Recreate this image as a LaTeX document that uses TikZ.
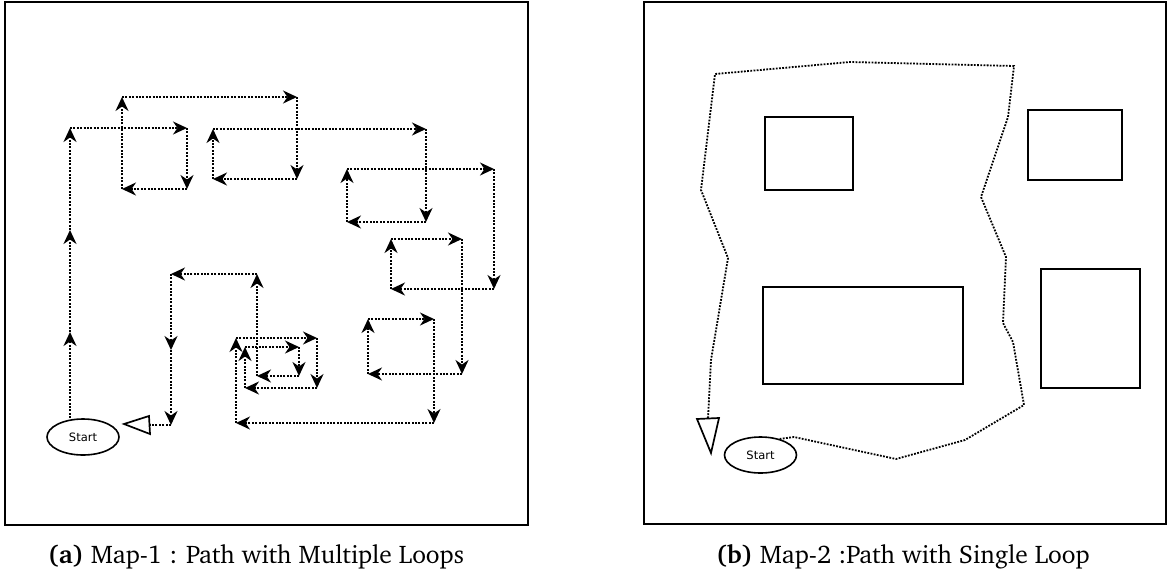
\documentclass[tikz,border=0pt]{standalone}
\usepackage[T1]{fontenc}
\usepackage{fontspec}
\usetikzlibrary{arrows.meta,shapes.geometric}
\newfontfamily\labelfont{DejaVu Sans}
\newcommand\capfont{\fontencoding{T1}\fontfamily{bch}\fontsize{25.5}{30}\selectfont}

\tikzset{
  frame/.style={draw, line width=1.8pt},
  route/.style={line width=2.1pt, dash pattern=on 2pt off 1.4pt},
  hop/.style={route, -{Stealth[length=14pt,width=13pt,inset=4.5pt]}},
  route2/.style={line width=1.8pt, dash pattern=on 1.8pt off 1.4pt},
  block/.style={draw, line width=1.9pt},
  startnode/.style={ellipse, draw, line width=1.6pt, minimum width=72pt,
    minimum height=36pt, inner sep=0pt,
    font=\labelfont\fontsize{11.5}{13}\selectfont},
  marker/.style={draw, line width=1.7pt, fill=white, line join=miter},
  caption/.style={anchor=base, font=\capfont}
}

\begin{document}
\begin{tikzpicture}[x=1pt,y=-1pt]
\useasboundingbox (0,0) rectangle (1167,576);

% ---------- left map: path with multiple loops ----------
\draw[frame] (5,2) rectangle (528,525);
\node[startnode] (s1) at (83,437) {Start};

\foreach \n/\x/\y in {
  a1/70/332, a2/70/230, a3/70/128, a4/187/128, a5/187/189, a6/122/189,
  a7/122/97, a8/297/97, a9/297/179, a10/213/179, a11/213/129, a12/426/129,
  a13/426/222, a14/347/222, a15/347/169, a16/494/169, a17/494/289,
  a18/391/289, a19/391/239, a20/462/239, a21/462/374, a22/368/374,
  a23/368/319, a24/434/319, a25/434/423, a26/236/423, a27/236/338,
  a28/317/338, a29/317/388, a30/245/388, a31/245/347, a32/299/347,
  a33/299/376, a34/257/376, a35/257/274, a36/171/274, a37/171/350,
  a38/171/425}
  \coordinate (\n) at (\x,\y);
\coordinate (a0) at (s1.north -| a1);

% end marker (triangle pointing left)
\coordinate (t1) at (149,425);
\draw[marker] (124,424) -- (149,416) -- (150,434) -- cycle;

\foreach \p/\c in {a0/a1, a1/a2, a2/a3, a3/a4, a4/a5, a5/a6, a6/a7, a7/a8,
  a8/a9, a9/a10, a10/a11, a11/a12, a12/a13, a13/a14, a14/a15, a15/a16,
  a16/a17, a17/a18, a18/a19, a19/a20, a20/a21, a21/a22, a22/a23, a23/a24,
  a24/a25, a25/a26, a26/a27, a27/a28, a28/a29, a29/a30, a30/a31, a31/a32,
  a32/a33, a33/a34, a34/a35, a35/a36, a36/a37, a37/a38}
  \draw[hop] (\p) -- (\c);
\draw[route] (a38) -- (t1);

\node[caption] (capa) at (256,563) {\textbf{(a)} Map-1 : Path with Multiple Loops};

% ---------- right map: path with a single loop ----------
\draw[frame] (644,2) rectangle (1166,524);

\draw[block] (765,117) rectangle (853,190);
\draw[block] (1028,110) rectangle (1122,180);
\draw[block] (763,287) rectangle (963,384);
\draw[block] (1041,269) rectangle (1140,388);

\node[startnode] (s2) at (760.5,455) {Start};

\foreach \n/\x/\y in {
  b1/794/437, b2/896/459, b3/965/440, b4/1024/405, b5/1013/342,
  b6/1003/323, b7/1006/257, b8/981/197, b9/1008/117, b10/1014/66,
  b11/850/62, b12/715/74, b13/701/190, b14/728/258, b15/711/360,
  b16/708/418.5}
  \coordinate (\n) at (\x,\y);
\coordinate (b0) at (s2.40);

\draw[route2] (b0) -- (b1) -- (b2) -- (b3) -- (b4) -- (b5) -- (b6) -- (b7)
  -- (b8) -- (b9) -- (b10) -- (b11) -- (b12) -- (b13) -- (b14) -- (b15)
  -- (b16);

% end marker (triangle pointing down)
\draw[marker] (697,419) -- (719,418) -- (711,453) -- cycle;

\node[caption] (capb) at (903,563) {\textbf{(b)} Map-2 :Path with Single Loop};
\end{tikzpicture}
\end{document}
